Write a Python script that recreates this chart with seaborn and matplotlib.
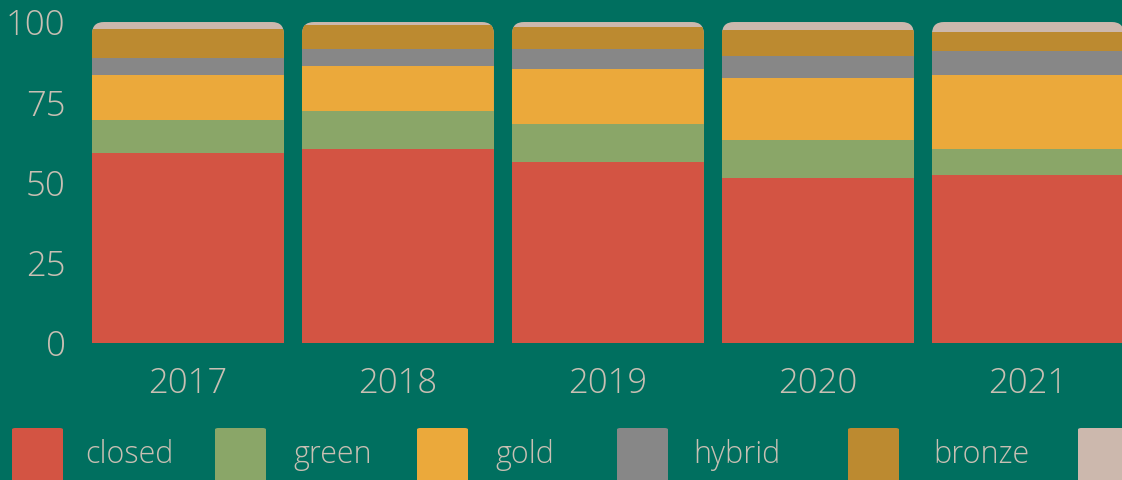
import numpy as np
import pandas as pd
import matplotlib
matplotlib.use("Agg")
import matplotlib.pyplot as plt
from matplotlib.patches import FancyBboxPatch
import seaborn as sns

years = ["2017", "2018", "2019", "2020", "2021"]
categories = ["closed", "green", "gold", "hybrid", "bronze", "diamond"]
closed = [59.2, 60.4, 56.5, 51.4, 52.3]
green = [10.3, 12.0, 11.8, 11.9, 8.1]
gold = [14.0, 14.0, 17.1, 19.3, 23.2]
hybrid = [5.4, 5.2, 6.2, 6.9, 7.4]
bronze = [9.0, 7.5, 6.9, 8.0, 6.0]
diamond = [2.1, 0.9, 1.5, 2.5, 3.0]

colors = ["#d35443", "#8aa668", "#eba93b", "#878787", "#bc8a30", "#ccb8ad"]
bg = "#006f5f"
txt = "#c9bfb3"

sns.set_style("white")
plt.rcParams["font.family"] = ["Open Sans", "DejaVu Sans"]

df = pd.DataFrame({"closed": closed, "green": green, "gold": gold,
                   "hybrid": hybrid, "bronze": bronze, "diamond": diamond}, index=years)
cum = df.cumsum(axis=1)

fig = plt.figure(figsize=(11.22, 4.8), dpi=100, facecolor=bg)
ax = fig.add_axes([92 / 1122, 137 / 480, 1030 / 1122, 324.2 / 480])
ax.set_facecolor(bg)

# stacked bars: draw cumulative totals from the top layer down
for cat, col in reversed(list(zip(categories, colors))):
    sns.barplot(x=years, y=cum[cat].values, color=col, saturation=1,
                width=0.914, ax=ax, linewidth=0)

ax.set_xlim(-0.457, 4.448)
ax.set_ylim(0, 101)
ax.set_yticks([0, 25, 50, 75, 100])
ax.set_xlabel("")
ax.set_ylabel("")
sns.despine(ax=ax, left=True, bottom=True)
ax.tick_params(length=0, colors=txt, labelsize=25)
ax.tick_params(axis="y", pad=19)
ax.tick_params(axis="x", pad=17)
for lab in ax.get_xticklabels() + ax.get_yticklabels():
    lab.set_fontweight("light")

# rounded top corners on each bar column
W = 1030
H = 324.2
aspect = (101 / H) / (4.905 / W)
r = 12 / (W / 4.905)
clips = []
for i in range(len(years)):
    top = cum.iloc[i, -1]
    box = FancyBboxPatch((i - 0.457, -20), 0.914, top + 20,
                         boxstyle=f"round,pad=0,rounding_size={r}",
                         mutation_aspect=aspect, transform=ax.transData)
    clips.append(box)
for p in ax.patches:
    cx = p.get_x() + p.get_width() / 2
    i = int(round(cx))
    p.set_clip_path(clips[i])

# legend along the bottom (last entry runs off the right edge)
leg_x = [12, 215, 417, 617, 848, 1078]
leg_tx = [85, 293, 495, 693, 933, 1160]
for cat, col, x, tx in zip(categories, colors, leg_x, leg_tx):
    fig.patches.append(FancyBboxPatch((x / 1122, (480 - 490) / 480), 51 / 1122, 62 / 480,
                                      boxstyle="round,pad=0,rounding_size=0.003",
                                      transform=fig.transFigure, facecolor=col,
                                      edgecolor="none", figure=fig))
    fig.text(tx / 1122, (480 - 455) / 480, cat, color=txt, fontsize=22,
             fontweight="light", va="center", ha="left")

fig.savefig("out.png", dpi=100, facecolor=bg)
